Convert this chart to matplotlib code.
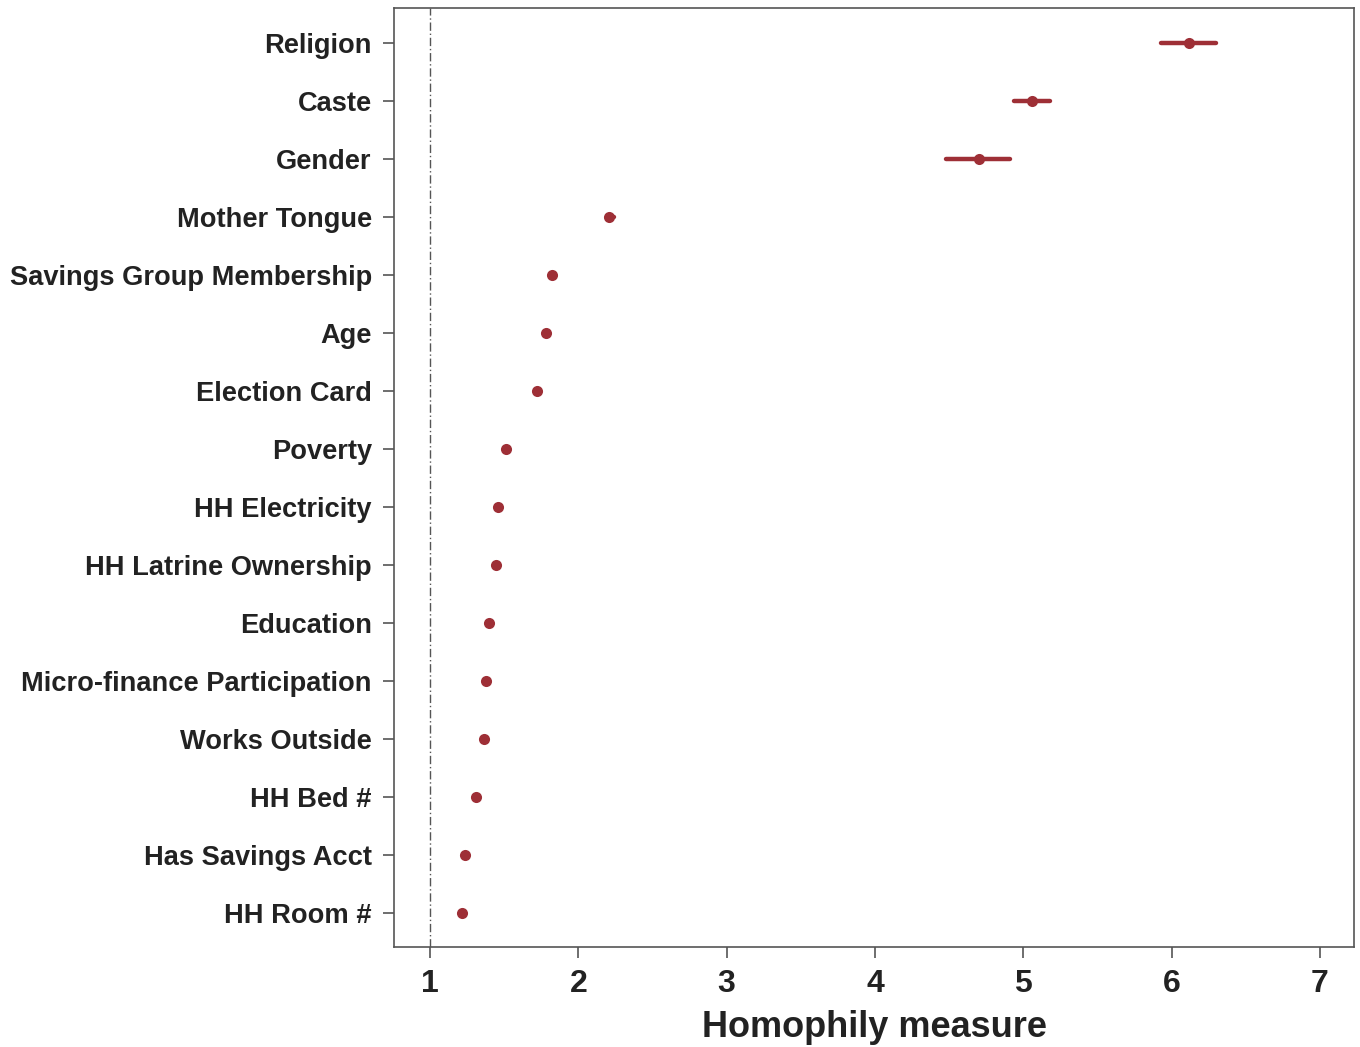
import matplotlib
matplotlib.use("Agg")
import matplotlib.pyplot as plt
import numpy as np

categories = ["Religion", "Caste", "Gender", "Mother Tongue", "Savings Group Membership",
              "Age", "Election Card", "Poverty", "HH Electricity", "HH Latrine Ownership",
              "Education", "Micro-finance Participation", "Works Outside", "HH Bed #",
              "Has Savings Acct", "HH Room #"]
estimates = [6.12, 5.06, 4.70, 2.21, 1.82, 1.78, 1.72, 1.51, 1.46, 1.445,
             1.40, 1.38, 1.364, 1.31, 1.236, 1.216]
ci_low = [5.93, 4.94, 4.48, 2.19, 1.82, 1.78, 1.72, 1.51, 1.46, 1.445,
          1.40, 1.38, 1.364, 1.31, 1.236, 1.216]
ci_high = [6.30, 5.18, 4.91, 2.24, 1.82, 1.78, 1.72, 1.51, 1.46, 1.445,
           1.40, 1.38, 1.364, 1.31, 1.236, 1.216]
xticks = [1, 2, 3, 4, 5, 6, 7]

color = "#9E2F36"
fig = plt.figure(figsize=(13.6, 10.47), dpi=100)
ax = fig.add_axes([0.2897, 0.0955, 0.7059, 0.897])

n = len(categories)
y = np.arange(n)[::-1]
ax.hlines(y, ci_low, ci_high, color=color, linewidth=3.2, capstyle="round")
ax.plot(estimates, y, "o", color=color, markersize=8, markeredgewidth=0)
ax.axvline(1, color="#555555", linestyle=(0, (6, 2, 1, 2)), linewidth=1.0)

ax.set_xlim(0.757, 7.23)
ax.set_ylim(-0.59, n - 1 + 0.6)
ax.set_yticks(y)
ax.set_yticklabels(categories, fontsize=19.6, fontweight="bold", family="Liberation Sans", color="#222222")
ax.set_xticks(xticks)
ax.set_xticklabels([str(t) for t in xticks], fontsize=23, fontweight="bold", family="Liberation Sans", color="#222222")
ax.set_xlabel("Homophily measure", fontsize=26, fontweight="bold", family="Liberation Sans", color="#222222", labelpad=8)
for s in ax.spines.values():
    s.set_color("#555555")
    s.set_linewidth(1.2)
ax.tick_params(axis="both", direction="out", length=8, width=1.2, color="#555555")
ax.tick_params(axis="y", pad=8)
ax.tick_params(axis="x", pad=8)
fig.savefig("out.png", dpi=100)
